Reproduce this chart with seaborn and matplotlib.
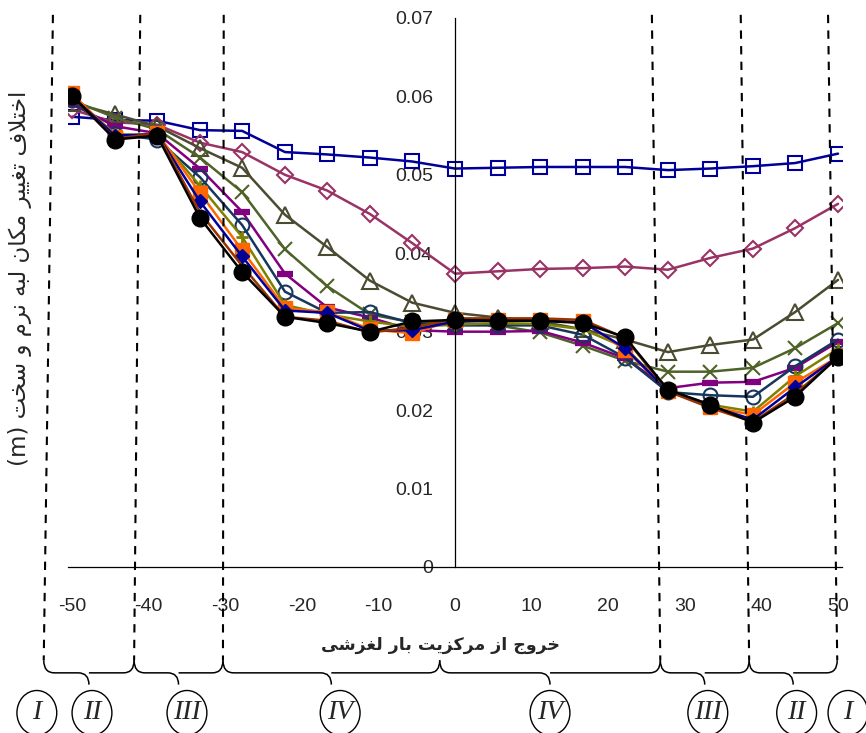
import matplotlib
matplotlib.use("Agg")
import matplotlib.pyplot as plt
import numpy as np
import pandas as pd
import seaborn as sns
from matplotlib.patches import Ellipse, PathPatch
from matplotlib.path import Path
from matplotlib.ticker import FuncFormatter

# ---------------------------------------------------------------- data
offsets = [-50, -44.4, -38.9, -33.3, -27.8, -22.2, -16.7, -11.1, -5.6, 0,
           5.6, 11.1, 16.7, 22.2, 27.8, 33.3, 38.9, 44.4, 50]

s_square = [0.0574, 0.0570, 0.0569, 0.0557, 0.0556, 0.0529, 0.0526, 0.0522, 0.0517, 0.0508,
            0.0509, 0.0510, 0.0510, 0.0510, 0.0506, 0.0508, 0.0511, 0.0515, 0.0527]
s_diamond = [0.0583, 0.0567, 0.0564, 0.0541, 0.0529, 0.0500, 0.0480, 0.0450, 0.0413, 0.0374,
             0.0377, 0.0380, 0.0381, 0.0383, 0.0379, 0.0394, 0.0406, 0.0432, 0.0463]
s_triangle = [0.0592, 0.0577, 0.0562, 0.0534, 0.0509, 0.0449, 0.0408, 0.0365, 0.0337, 0.0324,
              0.0318, 0.0313, 0.0303, 0.0290, 0.0274, 0.0283, 0.0290, 0.0325, 0.0366]
s_cross = [0.0595, 0.0573, 0.0558, 0.0522, 0.0478, 0.0405, 0.0358, 0.0322, 0.0312, 0.0311,
           0.0308, 0.0299, 0.0282, 0.0263, 0.0249, 0.0249, 0.0254, 0.0279, 0.0311]
s_dash = [0.0590, 0.0562, 0.0553, 0.0508, 0.0453, 0.0374, 0.0331, 0.0318, 0.0302, 0.0300,
          0.0300, 0.0301, 0.0286, 0.0266, 0.0228, 0.0235, 0.0236, 0.0254, 0.0287]
s_circle = [0.0595, 0.0552, 0.0545, 0.0497, 0.0436, 0.0351, 0.0324, 0.0325, 0.0311, 0.0308,
            0.0308, 0.0308, 0.0296, 0.0267, 0.0223, 0.0219, 0.0217, 0.0256, 0.0290]
s_plus = [0.0600, 0.0552, 0.0550, 0.0486, 0.0421, 0.0334, 0.0322, 0.0313, 0.0306, 0.0309,
          0.0311, 0.0310, 0.0303, 0.0280, 0.0225, 0.0207, 0.0198, 0.0243, 0.0278]
s_orange = [0.0604, 0.0548, 0.0553, 0.0477, 0.0404, 0.0330, 0.0325, 0.0303, 0.0298, 0.0315,
            0.0315, 0.0315, 0.0313, 0.0277, 0.0225, 0.0204, 0.0194, 0.0235, 0.0268]
s_bluefill = [0.0600, 0.0550, 0.0552, 0.0466, 0.0396, 0.0327, 0.0324, 0.0301, 0.0302, 0.0313,
              0.0314, 0.0314, 0.0312, 0.0279, 0.0224, 0.0205, 0.0188, 0.0229, 0.0268]
s_brown = [0.0600, 0.0546, 0.0553, 0.0452, 0.0384, 0.0319, 0.0314, 0.0299, 0.0305, 0.0317,
           0.0317, 0.0317, 0.0315, 0.0292, 0.0224, 0.0203, 0.0185, 0.0221, 0.0267]
s_black = [0.0601, 0.0545, 0.0550, 0.0445, 0.0376, 0.0319, 0.0311, 0.0300, 0.0313, 0.0315,
           0.0314, 0.0314, 0.0311, 0.0293, 0.0226, 0.0207, 0.0184, 0.0217, 0.0268]

x_ticks = [-50, -40, -30, -20, -10, 0, 10, 20, 30, 40, 50]
y_ticks = [0, 0.01, 0.02, 0.03, 0.04, 0.05, 0.06, 0.07]

# zone boundaries (dashed lines), top and bottom ends, and the zone labels
zone_top = [-52.5, -41.1, -30.2, 25.7, 37.3, 48.7]
zone_bottom = [-53.7, -41.9, -30.3, 26.8, 38.4, 49.9]
brace_edges = [-53.7, -41.9, -30.3, -2.0, 26.8, 38.4, 49.9]
zone_labels = ["I", "II", "III", "IV", "IV", "III", "II", "I"]
zone_label_x = [-54.6, -47.4, -35.0, -15.0, 12.4, 33.0, 44.6, 51.3]

ylabel_text = "اختلاف تغییر مکان لبه نرم و سخت"
xlabel_text = "خروج از مرکزیت بار لغزشی"

# (name, values, colour, marker, size, filled, edge width)
series = [
    ("square", s_square, "#000099", "s", 10, False, 1.5),
    ("diamond", s_diamond, "#993366", "D", 8, False, 1.5),
    ("triangle", s_triangle, "#4B4B32", "^", 11, False, 1.5),
    ("cross", s_cross, "#4F6228", "x", 10, False, 1.5),
    ("dash", s_dash, "#800080", "_", 12, True, 4.5),
    ("circle", s_circle, "#17365D", "o", 10, False, 1.5),
    ("plus", s_plus, "#808000", "+", 9, False, 2.0),
    ("orange", s_orange, "#FF6600", "s", 10, True, 1.0),
    ("bluefill", s_bluefill, "#000099", "D", 7, True, 1.0),
    ("brown", s_brown, "#993300", None, 0, True, 1.0),
    ("black", s_black, "#000000", "o", 12, True, 1.0),
]

# ---------------------------------------------------------------- arabic shaping
# (isolated, final, initial, medial) presentation forms
AR_FORMS = {
    "ا": ("\uFE8D", "\uFE8E", None, None),
    "ب": ("\uFE8F", "\uFE90", "\uFE91", "\uFE92"),
    "ت": ("\uFE95", "\uFE96", "\uFE97", "\uFE98"),
    "ج": ("\uFE9D", "\uFE9E", "\uFE9F", "\uFEA0"),
    "خ": ("\uFEA5", "\uFEA6", "\uFEA7", "\uFEA8"),
    "ر": ("\uFEAD", "\uFEAE", None, None),
    "ز": ("\uFEAF", "\uFEB0", None, None),
    "س": ("\uFEB1", "\uFEB2", "\uFEB3", "\uFEB4"),
    "ش": ("\uFEB5", "\uFEB6", "\uFEB7", "\uFEB8"),
    "غ": ("\uFECD", "\uFECE", "\uFECF", "\uFED0"),
    "ف": ("\uFED1", "\uFED2", "\uFED3", "\uFED4"),
    "ک": ("\uFB8E", "\uFB8F", "\uFB90", "\uFB91"),
    "ل": ("\uFEDD", "\uFEDE", "\uFEDF", "\uFEE0"),
    "م": ("\uFEE1", "\uFEE2", "\uFEE3", "\uFEE4"),
    "ن": ("\uFEE5", "\uFEE6", "\uFEE7", "\uFEE8"),
    "ه": ("\uFEE9", "\uFEEA", "\uFEEB", "\uFEEC"),
    "و": ("\uFEED", "\uFEEE", None, None),
    "ی": ("\uFBFC", "\uFBFD", "\uFBFE", "\uFBFF"),
}


def rtl(text):
    """Shape Arabic letters and return them in visual (left-to-right) order."""
    out = []
    i = 0
    while i < len(text):
        c = text[i]
        if c not in AR_FORMS:
            out.append(c)
            i += 1
            continue
        prev = text[i - 1] if i > 0 else ""
        joins_prev = prev in AR_FORMS and AR_FORMS[prev][2] is not None
        nxt = text[i + 1] if i + 1 < len(text) else ""
        if c == "ل" and nxt == "ا":
            out.append("\uFEFC" if joins_prev else "\uFEFB")
            i += 2
            continue
        joins_next = AR_FORMS[c][2] is not None and nxt in AR_FORMS
        iso, fin, ini, med = AR_FORMS[c]
        if joins_prev and joins_next:
            out.append(med)
        elif joins_prev:
            out.append(fin)
        elif joins_next:
            out.append(ini)
        else:
            out.append(iso)
        i += 1
    return "".join(reversed(out))


def brace(ax, x0, x1, y_top, y_mid, y_tip, r=1.4, lw=1.1):
    xm = 0.5 * (x0 + x1)
    verts = [
        (x0, y_top), (x0, y_mid), (x0 + r, y_mid),
        (xm - r, y_mid),
        (xm, y_mid), (xm, y_tip),
        (xm, y_mid), (xm + r, y_mid),
        (x1 - r, y_mid),
        (x1, y_mid), (x1, y_top),
    ]
    codes = [Path.MOVETO, Path.CURVE3, Path.CURVE3, Path.LINETO,
             Path.CURVE3, Path.CURVE3, Path.MOVETO, Path.CURVE3,
             Path.LINETO, Path.CURVE3, Path.CURVE3]
    ax.add_patch(PathPatch(Path(verts, codes), fill=False, lw=lw,
                           color="black", clip_on=False))


# ---------------------------------------------------------------- plot
sns.set_style("white")
plt.rcParams["font.family"] = ["Liberation Sans", "DejaVu Sans"]
plt.rcParams["axes.unicode_minus"] = False

fig = plt.figure(figsize=(8.66, 7.33), dpi=100)
ax = fig.add_axes([0.0788, 0.2265, 0.8933, 0.749])

df = pd.DataFrame({"offset": offsets})
for name, vals, col, mk, ms, filled, mew in series:
    df[name] = vals

for name, vals, col, mk, ms, filled, mew in series:
    kw = dict(color=col, linewidth=1.8, sort=False, ax=ax)
    if mk is not None:
        kw.update(marker=mk, markersize=ms, markeredgecolor=col,
                  markeredgewidth=mew,
                  markerfacecolor=col if filled else "none")
    sns.lineplot(data=df, x="offset", y=name, **kw)

ax.set_xlim(-50.5, 50.5)
ax.set_ylim(0, 0.07)
ax.set_xticks(x_ticks)
ax.set_yticks(y_ticks)
ax.yaxis.set_major_formatter(FuncFormatter(lambda v, p: "0" if v == 0 else f"{v:.2f}"))
ax.set_xlabel("")
ax.set_ylabel("")

for side in ("top", "right"):
    ax.spines[side].set_visible(False)
ax.spines["left"].set_position(("data", 0))
ax.spines["bottom"].set_position(("data", 0))
for side in ("left", "bottom"):
    ax.spines[side].set_linewidth(0.9)
    ax.spines[side].set_color("black")
ax.tick_params(axis="x", direction="out", length=4, width=0.9, pad=18, labelsize=14)
ax.tick_params(axis="y", direction="out", length=4, width=0.9, pad=12, labelsize=14)

# zone boundaries
for xt, xb in zip(zone_top, zone_bottom):
    ax.plot([xt, xb], [0.0704, -0.0119], color="black", lw=1.5,
            ls=(0, (4, 3.5)), clip_on=False)

for x0, x1 in zip(brace_edges[:-1], brace_edges[1:]):
    brace(ax, x0, x1, -0.0119, -0.0135, -0.0150)

for lab, xc in zip(zone_labels, zone_label_x):
    ax.add_patch(Ellipse((xc, -0.0186), width=5.2, height=0.0057, fill=False,
                         lw=1.0, color="black", clip_on=False))
    ax.text(xc, -0.0186, lab, ha="center", va="center", fontsize=20,
            family="Liberation Serif", style="italic", clip_on=False)

fig.text(440 / 866, (733 - 645) / 733, rtl(xlabel_text), ha="center", va="center",
         fontsize=12.5, fontweight="bold", family=["DejaVu Sans"])
fig.text(20 / 866, (733 - 278) / 733, "(m) " + rtl(ylabel_text), ha="center",
         va="center", rotation=90, fontsize=16.5, family=["DejaVu Sans"])

fig.savefig("out.png", dpi=100)
